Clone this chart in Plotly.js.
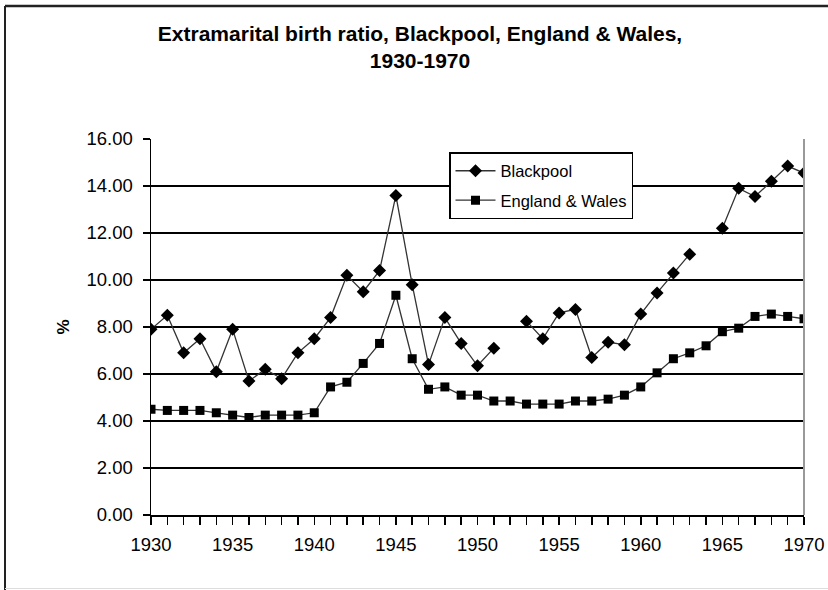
<!DOCTYPE html>
<html>
<head>
<meta charset="utf-8">
<script src="https://cdn.plot.ly/plotly-3.0.1.min.js"></script>
<style>html,body{margin:0;padding:0;background:#fff;}#chart{width:828px;height:590px;}</style>
</head>
<body>
<div id="chart"></div>
<script>
var years = [1930,1931,1932,1933,1934,1935,1936,1937,1938,1939,1940,1941,1942,1943,1944,1945,1946,1947,1948,1949,1950,1951,1952,1953,1954,1955,1956,1957,1958,1959,1960,1961,1962,1963,1964,1965,1966,1967,1968,1969,1970];
var blackpool = [7.9,8.5,6.9,7.5,6.1,7.9,5.7,6.2,5.8,6.9,7.5,8.4,10.2,9.5,10.4,13.6,9.8,6.4,8.4,7.3,6.35,7.1,null,8.25,7.5,8.6,8.75,6.7,7.35,7.25,8.55,9.45,10.3,11.1,null,12.2,13.9,13.55,14.2,14.85,14.55];
var englandWales = [4.5,4.45,4.45,4.45,4.35,4.25,4.15,4.25,4.25,4.25,4.35,5.45,5.65,6.45,7.3,9.35,6.65,5.35,5.45,5.1,5.1,4.85,4.85,4.72,4.72,4.72,4.85,4.85,4.93,5.1,5.45,6.05,6.65,6.9,7.2,7.8,7.95,8.45,8.55,8.45,8.35];
var seriesNames = ["Blackpool","England & Wales"];
var yTicks = [0,2,4,6,8,10,12,14,16];
var yTickLabels = ["0.00","2.00","4.00","6.00","8.00","10.00","12.00","14.00","16.00"];
var xTicks = [1930,1935,1940,1945,1950,1955,1960,1965,1970];

var FONT = 'Liberation Sans, Arial, sans-serif';

var traces = [
  {x: years, y: blackpool, name: seriesNames[0], type: 'scatter', mode: 'lines+markers',
   connectgaps: false, legendgroup: 'a',
   line: {color: '#333', width: 1.3},
   marker: {symbol: 'diamond', size: 10, color: '#000'}},
  {x: years, y: englandWales, name: seriesNames[1], type: 'scatter', mode: 'lines+markers',
   legendgroup: 'b',
   line: {color: '#333', width: 1.3},
   marker: {symbol: 'square', size: 9, color: '#000'}}
];

var layout = {
  width: 828, height: 590,
  paper_bgcolor: '#fff', plot_bgcolor: '#fff',
  margin: {l: 151, r: 24, t: 139, b: 75},
  font: {family: FONT, color: '#000'},
  title: {text: 'Extramarital birth ratio, Blackpool, England & Wales,<br>1930-1970',
          font: {size: 21, family: FONT, color: '#000', weight: 'bold'},
          x: 420/828, xref: 'container', xanchor: 'center',
          y: 1 - 41/590, yref: 'container', yanchor: 'top'},
  xaxis: {range: [1930, 1970], tickvals: xTicks, ticktext: xTicks.map(String),
          ticks: 'outside', ticklen: 8, tickwidth: 1.5, tickcolor: '#000',
          minor: {dtick: 1, tick0: 1930, ticks: 'outside', ticklen: 8, tickwidth: 1.5, tickcolor: '#000', showgrid: false},
          showgrid: false, zeroline: false, showline: true, linecolor: '#000', linewidth: 1.5,
          tickfont: {size: 18.5}, ticklabelstandoff: 4, fixedrange: true},
  yaxis: {range: [0, 16], tickvals: yTicks, ticktext: yTickLabels,
          ticks: 'outside', ticklen: 7, tickwidth: 1.5, tickcolor: '#000',
          showgrid: true, gridcolor: '#000', gridwidth: 1.5,
          zeroline: false, showline: true, linecolor: '#000', linewidth: 1.5,
          tickfont: {size: 18.5}, ticklabelstandoff: 6,
          title: {text: '%', font: {size: 17, weight: 'bold'}, standoff: 12},
          fixedrange: true},
  showlegend: true,
  legend: {x: (449-151)/653, y: (515-152)/376, xanchor: 'left', yanchor: 'top',
           bgcolor: '#fff', bordercolor: '#000', borderwidth: 1.5,
           font: {size: 16.5}, tracegroupgap: 5, itemwidth: 40},
  shapes: [
    {type: 'line', xref: 'paper', yref: 'paper', x0: 1, x1: 1, y0: 0, y1: 1, line: {color: '#999', width: 2}},
    {type: 'line', xref: 'paper', yref: 'paper', x0: (5-151)/653, x1: (830-151)/653, y0: (515-6)/376, y1: (515-6)/376, line: {color: '#222', width: 2.5}},
    {type: 'line', xref: 'paper', yref: 'paper', x0: (5-151)/653, x1: (5-151)/653, y0: (515-6)/376, y1: (515-590)/376, line: {color: '#222', width: 2}},
    {type: 'line', xref: 'paper', yref: 'paper', x0: (5-151)/653, x1: (830-151)/653, y0: (515-588.5)/376, y1: (515-588.5)/376, line: {color: '#ddd', width: 1}}
  ]
};

Plotly.newPlot('chart', traces, layout, {displayModeBar: false, staticPlot: true});
</script>
</body>
</html>
